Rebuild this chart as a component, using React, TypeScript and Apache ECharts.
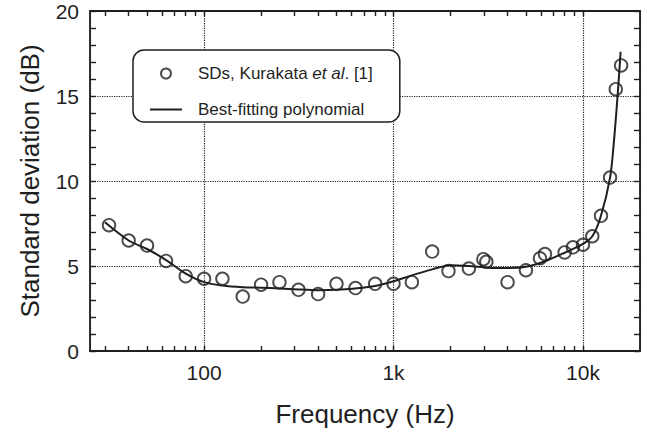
import React, { useEffect, useRef } from "react";
import * as echarts from "echarts";

// Measured standard deviations (circles)
const pointFreq = [31.5, 40, 50, 63, 80, 100, 125, 160, 200, 250, 315, 400, 500, 630, 800, 1000, 1250, 1600, 1950, 2500, 2980, 3090, 4000, 5000, 5930, 6300, 8000, 8850, 10000, 11200, 12450, 13900, 14900, 15900];
const pointSD = [7.4, 6.5, 6.2, 5.3, 4.4, 4.25, 4.25, 3.2, 3.9, 4.05, 3.6, 3.35, 3.95, 3.7, 3.95, 3.95, 4.05, 5.85, 4.7, 4.85, 5.4, 5.25, 4.05, 4.75, 5.45, 5.7, 5.8, 6.1, 6.25, 6.75, 7.95, 10.2, 15.4, 16.8];

// Best-fitting polynomial (solid line)
const curveFreq = [30, 40, 50, 63, 80, 100, 125, 160, 200, 250, 315, 400, 500, 630, 800, 1000, 1250, 1600, 2000, 2500, 3150, 4000, 5000, 6300, 8000, 10000, 11200, 12400, 13900, 14600, 15300, 15800];
const curveSD = [7.57, 6.5, 6.0, 5.35, 4.55, 4.05, 3.85, 3.75, 3.72, 3.68, 3.62, 3.58, 3.6, 3.68, 3.82, 4.1, 4.45, 4.8, 5.05, 5.0, 4.9, 4.88, 4.95, 5.28, 5.78, 6.3, 6.75, 7.9, 10.2, 12.45, 15.3, 17.6];

const xLabels: Record<number, string> = { 100: "100", 1000: "1k", 10000: "10k" };
const xTickValues = [30, 40, 50, 60, 70, 80, 90, 100, 200, 300, 400, 500, 600, 700, 800, 900, 1000, 2000, 3000, 4000, 5000, 6000, 7000, 8000, 9000, 10000];

const seriesPoints = "SDs, Kurakata et al. [1]";
const seriesCurve = "Best-fitting polynomial";

const INK = "#1f1f1f";
const FONT = "'Liberation Sans', Arial, sans-serif";

export default function App() {
  const ref = useRef<HTMLDivElement>(null);
  useEffect(() => {
    const chart = echarts.init(ref.current!, null, { renderer: "svg" });
    const axisLine = { show: true, onZero: false, lineStyle: { color: INK, width: 1.8 } };
    const tickStyle = { color: INK, width: 1.4 };
    const grid = { color: INK, width: 1.2, type: "dotted" as const };
    const tickAxis = (position: "top" | "bottom") => ({
      type: "log",
      logBase: 10,
      min: 25,
      max: 20000,
      position,
      axisLine,
      axisTick: { show: true, inside: true, length: 5, customValues: xTickValues, lineStyle: tickStyle },
      axisLabel: { show: false },
      splitLine: { show: false },
    });
    chart.setOption({
      animation: false,
      backgroundColor: "#fff",
      textStyle: { fontFamily: FONT, color: INK },
      grid: { left: 90, right: 7, top: 11, bottom: 82 },
      legend: {
        orient: "vertical",
        left: 133,
        top: 50,
        padding: [15, 27, 4, 16],
        itemGap: 19,
        itemWidth: 32,
        itemHeight: 10,
        backgroundColor: "#fff",
        borderColor: INK,
        borderWidth: 1.5,
        borderRadius: 11,
        data: [
          { name: seriesPoints },
          { name: seriesCurve, itemStyle: { opacity: 0 } },
        ],
        formatter: (name: string) =>
          name === seriesPoints
            ? "{a|SDs, Kurakata }{i|et al}{a|. [1]}"
            : "{a|" + name + "}",
        textStyle: {
          fontFamily: FONT,
          fontSize: 17,
          color: INK,
          padding: [0, 0, 0, 11],
          rich: {
            a: { fontFamily: FONT, fontSize: 17, color: INK, lineHeight: 20 },
            i: { fontFamily: FONT, fontSize: 17, color: INK, fontStyle: "italic", lineHeight: 20 },
          },
        },
      },
      xAxis: [
        {
          type: "log",
          logBase: 10,
          min: 25,
          max: 20000,
          position: "bottom",
          name: "Frequency (Hz)",
          nameLocation: "middle",
          nameGap: 50,
          nameTextStyle: { fontSize: 26, color: INK, fontFamily: FONT },
          axisLine,
          axisTick: { show: false },
          axisLabel: {
            fontSize: 21,
            color: INK,
            fontFamily: FONT,
            margin: 11,
            showMinLabel: false,
            showMaxLabel: false,
            formatter: (v: number) => xLabels[Math.round(v)] || "",
          },
          splitLine: { show: true, lineStyle: grid },
        },
        tickAxis("bottom"),
        tickAxis("top"),
      ],
      yAxis: [
        {
          type: "value",
          min: 0,
          max: 20,
          interval: 5,
          position: "left",
          name: "Standard deviation (dB)",
          nameLocation: "middle",
          nameGap: 47,
          nameTextStyle: { fontSize: 26, color: INK, fontFamily: FONT },
          axisLine,
          axisTick: { show: true, inside: true, length: 6, lineStyle: tickStyle },
          minorTick: { show: true, splitNumber: 5, length: 6, lineStyle: tickStyle },
          axisLabel: { fontSize: 21, color: INK, fontFamily: FONT, margin: 11 },
          splitLine: { show: true, lineStyle: grid },
        },
        {
          type: "value",
          min: 0,
          max: 20,
          interval: 5,
          position: "right",
          axisLine,
          axisTick: { show: true, inside: true, length: 6, lineStyle: tickStyle },
          minorTick: { show: true, splitNumber: 5, length: 6, lineStyle: tickStyle },
          axisLabel: { show: false },
          splitLine: { show: false },
        },
      ],
      series: [
        {
          name: seriesCurve,
          type: "line",
          xAxisIndex: 0,
          yAxisIndex: 0,
          data: curveFreq.map((f, i) => [f, curveSD[i]]),
          symbol: "none",
          smooth: 0.3,
          itemStyle: { color: INK },
          lineStyle: { color: INK, width: 2 },
          z: 3,
        },
        {
          name: seriesPoints,
          type: "scatter",
          xAxisIndex: 0,
          yAxisIndex: 0,
          data: pointFreq.map((f, i) => [f, pointSD[i]]),
          symbol: "circle",
          symbolSize: 12.5,
          itemStyle: { color: "rgba(0,0,0,0)", borderColor: INK, borderWidth: 1.9 },
          z: 4,
        },
      ],
    });
    return () => chart.dispose();
  }, []);
  return (
    <div
      ref={ref}
      style={{ position: "fixed", left: 0, top: 0, width: 647, height: 433, background: "#fff" }}
    />
  );
}
